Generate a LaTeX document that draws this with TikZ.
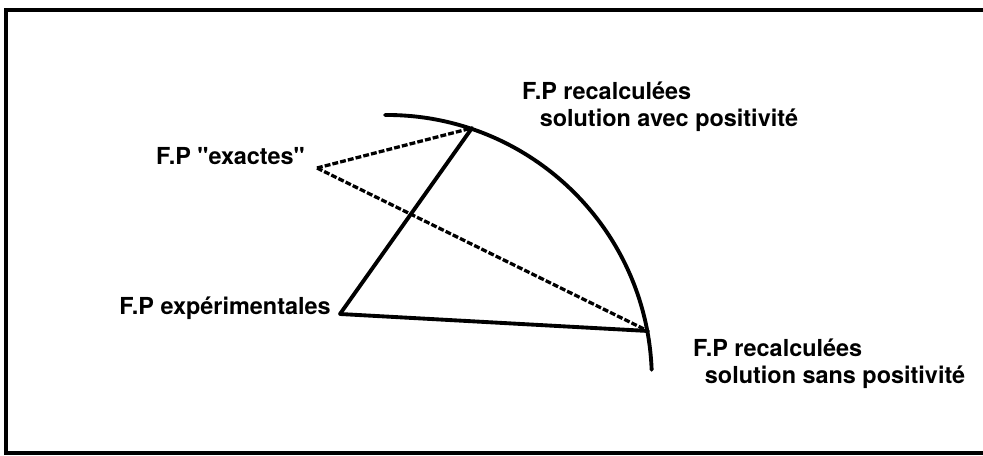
\documentclass[tikz,border=0pt]{standalone}
\usepackage{fontspec}
\setmainfont{TeX Gyre Heros}

\tikzset{
	trait/.style={line width=3.3pt, line cap=round},
	tirets/.style={line width=2.8pt, dash pattern=on 5pt off 1.8pt},
	etiquette/.style={font=\bfseries\fontsize{20}{23}\selectfont, inner sep=0pt}
}

\begin{document}
\begin{tikzpicture}[x=0.03cm, y=0.03cm]
	
	\useasboundingbox (0,0) rectangle (983,456);
	\clip (0,0) rectangle (983,456);
	
	\draw[line width=3pt] (6,3) rectangle (1000,446);
	
	\coordinate (E) at (340,142);
	\coordinate (X) at (317,288);
	\coordinate (A) at (472,328);
	\coordinate (S) at (648,125);
	
	\draw[trait] (385,341) arc[start angle=90.4, end angle=2.2, radius=265];
	
	\draw[trait] (E) -- (A);
	\draw[trait] (E) -- (S);
	\draw[tirets] (X) -- (A);
	\draw[tirets] (X) -- (S);
	
	\node[etiquette, anchor=base east] (exactes) at (305,291) {F.P \textquotedbl exactes\textquotedbl};
	\node[etiquette, anchor=base east] (experimentales) at (331,141) {F.P expérimentales};
	\node[etiquette, anchor=north west, align=left] (avec) at (522,374) {F.P recalculées\\\hspace*{15pt}solution avec positivité};
	\node[etiquette, anchor=north west, align=left] (sans) at (693,117) {F.P recalculées\\\hspace*{10pt}solution sans positivité};
	
\end{tikzpicture}
\end{document}
